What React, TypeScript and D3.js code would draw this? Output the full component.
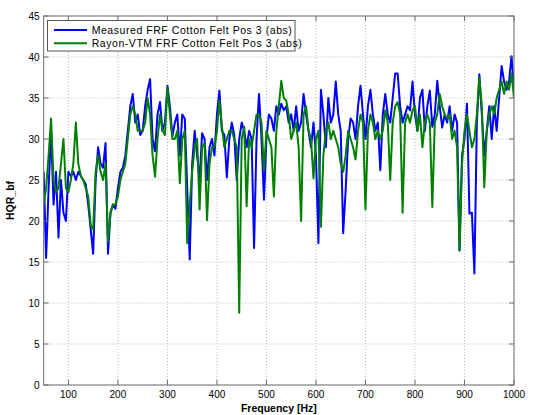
import React from "react";
import * as d3 from "d3";

const freqHz = [
  50, 55, 60, 65, 70, 75, 80, 85, 90, 95,
  100, 105, 110, 115, 120, 125, 130, 135, 140, 145,
  150, 155, 160, 165, 170, 175, 180, 185, 190, 195,
  200, 205, 210, 215, 220, 225, 230, 235, 240, 245,
  250, 255, 260, 265, 270, 275, 280, 285, 290, 295,
  300, 305, 310, 315, 320, 325, 330, 335, 340, 345,
  350, 355, 360, 365, 370, 375, 380, 385, 390, 395,
  400, 405, 410, 415, 420, 425, 430, 435, 440, 445,
  450, 455, 460, 465, 470, 475, 480, 485, 490, 495,
  500, 505, 510, 515, 520, 525, 530, 535, 540, 545,
  550, 555, 560, 565, 570, 575, 580, 585, 590, 595,
  600, 605, 610, 615, 620, 625, 630, 635, 640, 645,
  650, 655, 660, 665, 670, 675, 680, 685, 690, 695,
  700, 705, 710, 715, 720, 725, 730, 735, 740, 745,
  750, 755, 760, 765, 770, 775, 780, 785, 790, 795,
  800, 805, 810, 815, 820, 825, 830, 835, 840, 845,
  850, 855, 860, 865, 870, 875, 880, 885, 890, 895,
  900, 905, 910, 915, 920, 925, 930, 935, 940, 945,
  950, 955, 960, 965, 970, 975, 980, 985, 990, 995,
  1000,
];

const measured = [
  26, 15.5, 24, 31, 22, 26, 18, 25, 21, 20,
  26, 25.5, 26, 25, 26, 25.5, 25, 24.5, 22, 19,
  16, 25, 29, 27, 26.5, 29.5, 16, 21, 22, 21.5,
  24, 26, 26.5, 28, 31, 34, 35.5, 32, 33, 30.5,
  31, 34, 36, 37.3, 30, 28.5, 33, 34.5, 31, 32,
  36.5, 34, 30.3, 32, 33, 28, 33, 32.5, 24, 15.3,
  27, 31, 28, 25, 30.7, 30, 25, 29, 30, 28,
  33, 35.9, 31, 30.5, 25.3, 30, 32, 30.5, 25, 30,
  32, 31, 29, 31, 30, 16.7, 30, 35.5, 30, 22.6,
  30, 33, 32.5, 31, 34, 33, 34.3, 33.5, 34, 32,
  33, 31, 34, 31, 32, 35.5, 33, 31, 29, 32,
  28, 17.3, 36, 33, 29, 35, 32, 33, 37, 33,
  31, 18.5, 23.8, 30, 32.5, 32, 30, 34, 36.5, 33,
  30, 34, 36, 33, 31, 32, 26.2, 33, 35.5, 33,
  32, 35, 38, 38, 34, 32, 33, 34, 33.5, 37,
  33, 31, 35, 36, 31, 34, 35.9, 31.5, 33, 37.1,
  34, 31.4, 33, 32, 34, 31, 33, 32, 16.4, 28,
  30, 34.3, 20.9, 21, 13.6, 32, 37.9, 33, 28, 31,
  34, 30, 34, 31, 35, 38.9, 37, 36, 37, 40.1,
  36,
];

const rayonVTM = [
  22, 24, 28, 32.5, 25, 23.5, 24, 27, 30, 24,
  23.5, 25, 27, 32, 27, 25.5, 25, 24, 23, 19.5,
  19, 26, 28, 26, 25, 27, 17.5, 21, 22, 22,
  23, 25, 26, 27, 30, 33, 34, 33, 31, 31,
  31, 32, 35, 33, 28, 25.4, 30, 33, 31, 30.5,
  36.3, 33, 30, 30, 31, 24.6, 30, 31, 17.3, 22,
  26, 29, 30, 21.4, 29, 29.5, 20.1, 27, 29, 29,
  31, 34.7, 31.5, 29, 30, 31, 31, 30, 29, 8.8,
  30, 31.5, 21.8, 30, 29, 31, 33, 33, 32, 26.2,
  31, 30, 29, 23, 31, 34, 37.1, 35, 34.7, 33,
  30, 31, 32, 29, 20, 33, 34, 31, 30, 25.2,
  30, 31, 19.3, 28, 31, 32, 30, 31, 30, 29,
  27, 26, 28, 31, 30, 29, 27.5, 31, 33, 32,
  21.4, 31, 33, 32, 30, 31, 30, 31, 33.5, 32,
  25, 32, 34, 34.5, 33, 21, 32, 33, 32, 33.5,
  34, 31, 33, 29, 32, 33, 32, 21.7, 32, 33,
  35.5, 34, 33, 32.5, 33, 30, 31, 29, 16.4, 27,
  31, 33, 31, 29, 30, 33, 37.5, 34, 24.1, 31,
  33, 34, 33, 35, 36, 37, 35.5, 37, 36, 38,
  35,
];

const xTicks = [100, 200, 300, 400, 500, 600, 700, 800, 900, 1000];
const yTicks = [0, 5, 10, 15, 20, 25, 30, 35, 40, 45];
const seriesNames = [
  "Measured FRF Cotton Felt Pos 3 (abs)",
  "Rayon-VTM FRF Cotton Felt Pos 3 (abs)",
];
const seriesColors = ["#0000ff", "#008000"];

const W = 536;
const H = 415;
const L = 43.65;
const R = 514;
const T = 16;
const B = 385;
const FONT = "'Liberation Sans', Arial, sans-serif";

export default function App() {
  const x = d3.scaleLinear().domain([50, 1000]).range([L, R]);
  const y = d3.scaleLinear().domain([0, 45]).range([B, T]);
  const line = d3
    .line<number>()
    .x((_, i) => x(freqHz[i]))
    .y((d) => y(d));
  const series = [measured, rayonVTM];
  const axisColor = "#6e6e6e";
  return (
    <svg
      width={W}
      height={H}
      style={{ position: "absolute", left: 0, top: 0, background: "#fff" }}
      fontFamily={FONT}
    >
      <rect x={0} y={0} width={W} height={H} fill="#fff" />
      <defs>
        <clipPath id="clip">
          <rect x={L} y={T} width={R - L} height={B - T} />
        </clipPath>
      </defs>
      {xTicks.map((t) => (
        <line key={"gx" + t} x1={x(t)} x2={x(t)} y1={T} y2={B} stroke="#b8b8b8" strokeWidth={1} strokeDasharray="1,2" />
      ))}
      {yTicks.map((t) => (
        <line key={"gy" + t} x1={L} x2={R} y1={y(t)} y2={y(t)} stroke="#b8b8b8" strokeWidth={1} strokeDasharray="1,2" />
      ))}
      <g clipPath="url(#clip)">
        {series.map((s, k) => (
          <path key={k} d={line(s) || ""} fill="none" stroke={seriesColors[k]} strokeWidth={2} strokeLinejoin="round" />
        ))}
      </g>
      {xTicks.map((t) => (
        <g key={"tx" + t}>
          <line x1={x(t)} x2={x(t)} y1={B} y2={B - 5} stroke={axisColor} />
          <line x1={x(t)} x2={x(t)} y1={T} y2={T + 5} stroke={axisColor} />
          <text x={x(t)} y={B + 12.5} fontSize={10} textAnchor="middle" fill="#000">{t}</text>
        </g>
      ))}
      {yTicks.map((t) => (
        <g key={"ty" + t}>
          <line x1={L} x2={L + 5} y1={y(t)} y2={y(t)} stroke={axisColor} />
          <line x1={R} x2={R - 5} y1={y(t)} y2={y(t)} stroke={axisColor} />
          <text x={L - 4} y={y(t) + 3.5} fontSize={10} textAnchor="end" fill="#000">{t}</text>
        </g>
      ))}
      <rect x={L} y={T} width={R - L} height={B - T} fill="none" stroke={axisColor} strokeWidth={1} />
      <text x={(L + R) / 2} y={411.5} fontSize={10.5} fontWeight="bold" textAnchor="middle" fill="#000">Frequency [Hz]</text>
      <text transform={`translate(14,${(T + B) / 2}) rotate(-90)`} fontSize={10.5} fontWeight="bold" textAnchor="middle" fill="#000">HQR_bf</text>
      <rect x={47.5} y={20.5} width={247.5} height={30.5} fill="#fff" stroke="#555" strokeWidth={1} />
      {seriesNames.map((n, k) => (
        <g key={"lg" + k}>
          <line x1={54} x2={87} y1={30 + k * 13.3} y2={30 + k * 13.3} stroke={seriesColors[k]} strokeWidth={2} />
          <text x={91.7} y={33.8 + k * 13.3} fontSize={10.5} letterSpacing={0.55} fill="#000">{n}</text>
        </g>
      ))}
    </svg>
  );
}
